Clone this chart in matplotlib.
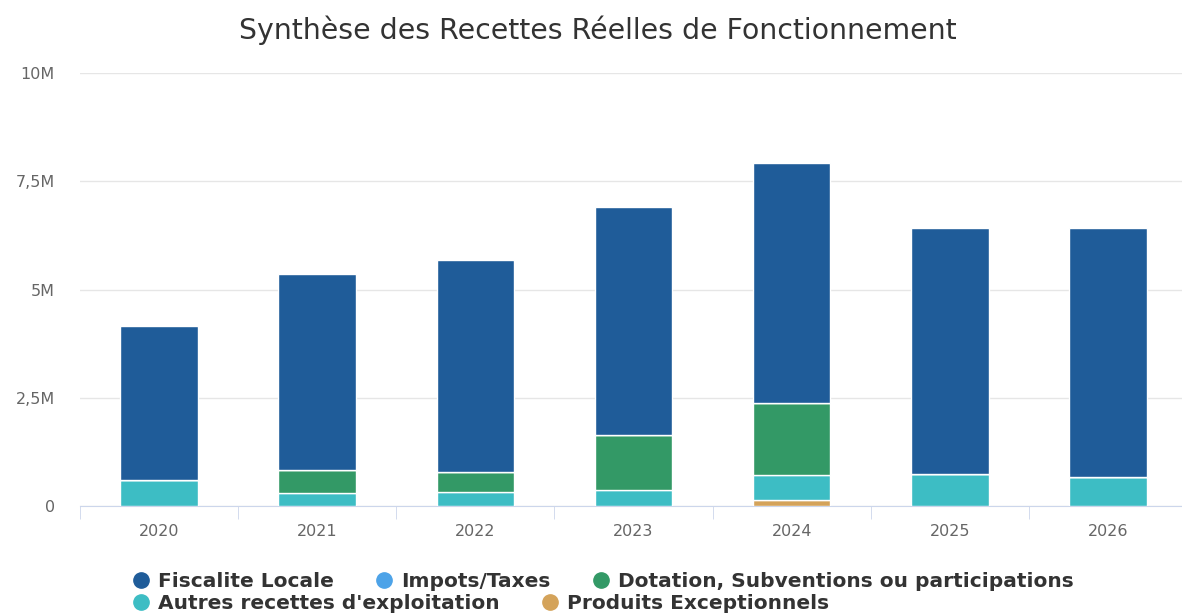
import matplotlib.pyplot as plt
import numpy as np
from matplotlib.lines import Line2D
from matplotlib.ticker import FuncFormatter

plt.rcParams["font.family"] = "DejaVu Sans"

years = ["2020", "2021", "2022", "2023", "2024", "2025", "2026"]

# values in millions of euros
fiscalite = [3.56, 4.53, 4.89, 5.27, 5.54, 5.68, 5.75]
impots = [0, 0, 0, 0, 0, 0, 0]
dotation = [0, 0.53, 0.47, 1.27, 1.66, 0, 0]
autres = [0.60, 0.30, 0.32, 0.37, 0.58, 0.74, 0.67]
produits = [0, 0, 0, 0, 0.14, 0, 0]

names = ["Fiscalite Locale", "Impots/Taxes", "Dotation, Subventions ou participations",
         "Autres recettes d'exploitation", "Produits Exceptionnels"]
colors = ["#1f5c99", "#4da3e8", "#339966", "#3dbdc4", "#d4a35a"]

W, H = 1182, 614
fig = plt.figure(figsize=(W / 100, H / 100), dpi=100)
ax = fig.add_axes([80 / W, (H - 506) / H, 1107 / W, 433 / H])

x = np.arange(len(years))
series = [fiscalite, impots, dotation, autres, produits]
# stack from the last series upward, like the original
bottom = np.zeros(len(years))
for vals, col in zip(series[::-1], colors[::-1]):
    v = np.array(vals)
    ax.bar(x, v, 0.49, bottom=bottom, color=col, edgecolor="white", linewidth=1, zorder=3)
    bottom += v

ax.set_xlim(-0.5, len(years) - 0.5)
ax.set_ylim(0, 10)
ax.set_yticks([0, 2.5, 5, 7.5, 10])


def fmt(v, pos):
    if v == 0:
        return "0"
    s = ("%g" % v).replace(".", ",")
    return s + "M"


ax.yaxis.set_major_formatter(FuncFormatter(fmt))
ax.grid(axis="y", color="#e6e6e6", linewidth=1, zorder=0)
for s in ["top", "right", "left"]:
    ax.spines[s].set_visible(False)
ax.spines["bottom"].set_color("#ccd6eb")
ax.tick_params(axis="y", length=0, pad=18, labelsize=11.5, labelcolor="#666666")
ax.set_xticks(x)
ax.set_xticklabels(years)
ax.tick_params(axis="x", which="major", length=0, pad=13, labelsize=11.5, labelcolor="#666666")
ax.set_xticks(np.arange(-0.5, len(years)), minor=True)
ax.tick_params(axis="x", which="minor", length=9, color="#ccd6eb")

fig.text(598 / W, 1 - 30 / H, "Synthèse des Recettes Réelles de Fonctionnement",
         ha="center", va="center", fontsize=20.4, color="#333333")

handles = [Line2D([], [], marker="o", linestyle="", markersize=11, color=c) for c in colors]
kw = dict(loc="upper left", frameon=False, handletextpad=0.45, columnspacing=2.05,
          borderaxespad=0, borderpad=0, handlelength=0.85,
          prop=dict(weight="bold", size=14.5))
leg1 = fig.legend(handles[:3], names[:3], ncol=3, bbox_to_anchor=(132 / W, 1 - 572 / H), **kw)
for t in leg1.get_texts():
    t.set_color("#333333")
leg2 = fig.legend(handles[3:], names[3:], ncol=2, bbox_to_anchor=(132 / W, 1 - 594 / H), **kw)
for t in leg2.get_texts():
    t.set_color("#333333")

fig.savefig("out.png", dpi=100)
